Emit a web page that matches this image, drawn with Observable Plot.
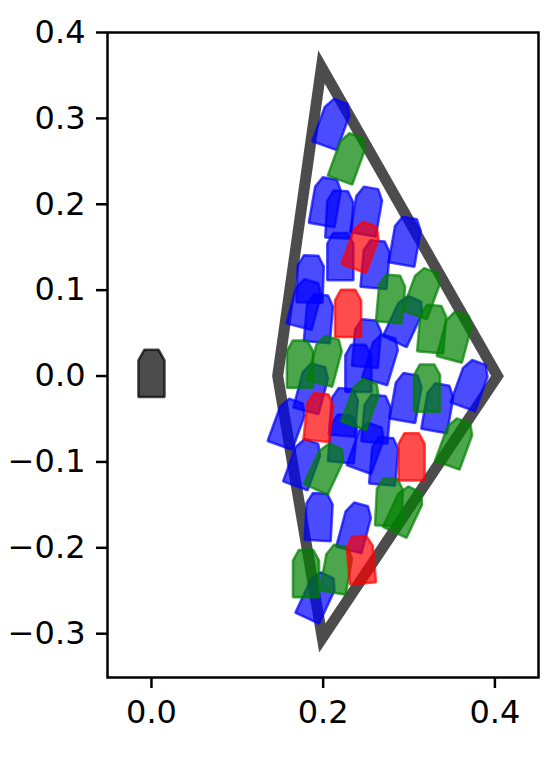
<!DOCTYPE html>
<html><head><meta charset="utf-8">
<script src="https://cdn.jsdelivr.net/npm/d3@7"></script>
<script src="https://cdn.jsdelivr.net/npm/@observablehq/plot@0.6"></script>
<style>body{margin:0;background:#fff}</style>
</head><body><div id="chart"></div>
<script>
// Kite outline (data units)
const kiteX = [0.198, 0.403, 0.199, 0.147];
const kiteY = [0.360, 0.000, -0.305, 0.000];

// Reference marker at the origin
const originX = [0.0];
const originY = [0.003];

// Blue markers: centre x, centre y, tilt (deg, clockwise)
const blueX = [0.211,0.203,0.219,0.251,0.220,0.261,0.296,0.185,0.179,0.195,0.295,0.251,0.241,0.268,0.372,0.297,0.334,0.159,0.187,0.224,0.223,0.262,0.251,0.271,0.177,0.195,0.237,0.193];
const blueY = [0.294,0.203,0.188,0.192,0.139,0.130,0.157,0.113,0.084,0.067,0.065,0.038,0.009,0.020,-0.010,-0.025,-0.037,-0.055,-0.014,-0.042,-0.073,-0.050,-0.083,-0.099,-0.102,-0.164,-0.176,-0.257];
const blueTilt = [20,10,3,10,0,5,10,2,15,5,25,5,0,17,20,10,10,20,15,5,5,5,20,5,20,3,15,25];

// Green markers
const greenX = [0.229,0.279,0.316,0.327,0.354,0.173,0.203,0.321,0.245,0.354,0.203,0.277,0.295,0.180,0.216];
const greenY = [0.254,0.090,0.097,0.055,0.046,0.014,0.018,-0.014,-0.032,-0.078,-0.107,-0.147,-0.157,-0.230,-0.225];
const greenTilt = [20,5,20,5,15,0,15,0,20,20,25,3,25,0,10];

// Red markers
const redX = [0.245,0.229,0.195,0.303,0.244];
const redY = [0.151,0.073,-0.048,-0.094,-0.214];
const redTilt = [20,0,6,0,-5];

// Tick values
const xTicks = [0.0, 0.2, 0.4];
const yTicks = [-0.3,-0.2,-0.1,0.0,0.1,0.2,0.3,0.4];

// marker template (half width / half height in data units)
const hw = 0.0152, hh = 0.0275;
const template = [[-1,-1],[1,-1],[1,0.55],[0.55,1],[-0.55,1],[-1,0.55]];

function polys(xs, ys, tilts) {
  const rows = [];
  xs.forEach((cx, i) => {
    const t = (tilts ? tilts[i] : 0) * Math.PI / 180;
    const c = Math.cos(t), s = Math.sin(t);
    template.forEach(([u, v]) => {
      const lu = u * hw, lv = v * hh;
      rows.push({id: i, x: cx + lu * c + lv * s, y: ys[i] - lu * s + lv * c});
    });
  });
  return rows;
}

const kite = kiteX.map((x, i) => ({x, y: kiteY[i]}));

function shapeMark(rows, color) {
  return Plot.line(rows, {x: "x", y: "y", z: "id", curve: "linear-closed",
    fill: color, fillOpacity: 0.7, stroke: color, strokeOpacity: 0.7, strokeWidth: 2.5,
    strokeLinejoin: "miter"});
}

const chart = Plot.plot({
  width: 557, height: 769,
  marginLeft: 107, marginRight: 19, marginTop: 32, marginBottom: 92,
  style: {fontFamily: "DejaVu Sans", fontSize: "32px", background: "#fff", color: "black"},
  x: {domain: [-0.0512, 0.4508]},
  y: {domain: [-0.351, 0.4]},
  marks: [
    Plot.line(kite, {x: "x", y: "y", curve: "linear-closed", stroke: "black", strokeOpacity: 0.7,
      strokeWidth: 11, strokeLinejoin: "miter", strokeMiterlimit: 10}),
    shapeMark(polys(originX, originY, null), "black"),
    shapeMark(polys(blueX, blueY, blueTilt), "blue"),
    shapeMark(polys(greenX, greenY, greenTilt), "green"),
    shapeMark(polys(redX, redY, redTilt), "red"),
    Plot.frame({stroke: "black", strokeWidth: 2.5}),
    Plot.axisX({ticks: xTicks, tickFormat: d3.format(".1f"), tickSize: 11, tickPadding: 12,
      strokeWidth: 2.5, label: null, fontSize: 32}),
    Plot.axisY({ticks: yTicks, tickFormat: d3.format(".1f"), tickSize: 11, tickPadding: 11,
      strokeWidth: 2.5, label: null, fontSize: 32})
  ]
});
document.getElementById("chart").appendChild(chart);
</script>
</body></html>
